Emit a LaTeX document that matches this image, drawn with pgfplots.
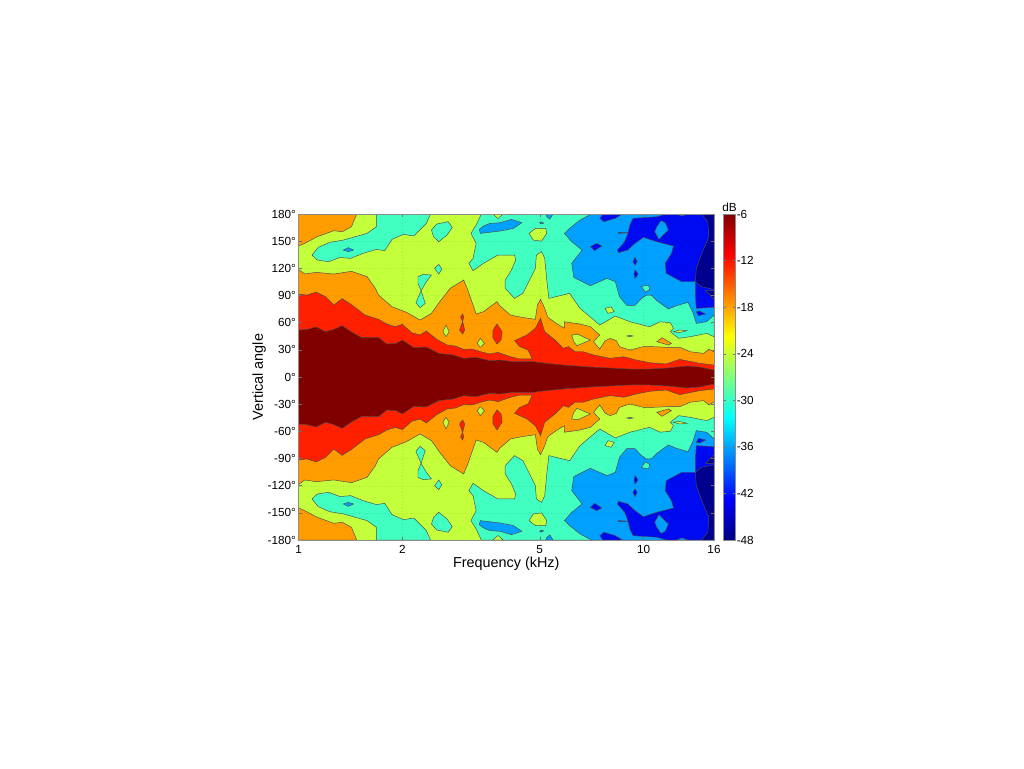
\documentclass[border=0pt]{standalone}
\usepackage{fontspec}
\setmainfont{Liberation Sans}
\usepackage{pgfplots}
\pgfplotsset{compat=1.18}
\definecolor{cnavy}{RGB}{0,0,140}
\definecolor{cblue}{RGB}{0,10,240}
\definecolor{cazure}{RGB}{0,160,255}
\definecolor{cteal}{RGB}{64,255,192}
\definecolor{cyg}{RGB}{196,255,60}
\definecolor{corange}{RGB}{255,156,0}
\definecolor{cred}{RGB}{255,32,0}
\definecolor{cdark}{RGB}{128,0,0}
\colorlet{cline}{black!70}
% closed patch, drawn in the upper half and mirrored in the lower half
\newcommand\poly[2]{%
  \addplot[fill=#1,draw=cline,line width=.35pt,forget plot] coordinates {#2} -- cycle;
  \addplot[fill=#1,draw=cline,line width=.35pt,forget plot,y filter/.expression={-y}] coordinates {#2} -- cycle;
}
% band around 0 deg: upper boundary given, mirrored for the lower one
\newcommand\band[2]{%
  \addplot[fill=#1,draw=none,forget plot] coordinates {(0,0) #2 (4,0)} -- cycle;
  \addplot[fill=#1,draw=none,forget plot,y filter/.expression={-y}] coordinates {(0,0) #2 (4,0)} -- cycle;
  \addplot[draw=cline,line width=.35pt,forget plot] coordinates {#2};
  \addplot[draw=cline,line width=.35pt,forget plot,y filter/.expression={-y}] coordinates {#2};
}
\begin{document}
\begin{tikzpicture}
\useasboundingbox (0,0) rectangle (768pt,576pt);
\begin{axis}[
  at={(223.9pt,171pt)},anchor=south west,
  scale only axis,width=311.6pt,height=244.5pt,
  xmin=0,xmax=4,ymin=-180,ymax=180,
  xtick={0,1,2.3219,3.3219,4},xticklabels={1,2,5,10,16},
  ytick={-180,-150,-120,-90,-60,-30,0,30,60,90,120,150,180},
  yticklabels={-180°,-150°,-120°,-90°,-60°,-30°,0°,30°,60°,90°,120°,150°,180°},
  tick label style={font=\fontsize{8.8pt}{10pt}\selectfont},
  xlabel={Frequency (kHz)},ylabel={Vertical angle},
  label style={font=\fontsize{10.8pt}{12pt}\selectfont},
  xlabel style={yshift=4.5pt},
  ylabel style={yshift=-5.5pt},
  xticklabel style={yshift=-.5pt},
  yticklabel style={xshift=1.5pt},
  tick align=inside,major tick length=2.5pt,
  tick style={draw=black!55,line width=.3pt},
  axis line style={draw=black!45,line width=.3pt},
  grid=major,major grid style={draw=black,opacity=.1,dotted,line width=.2pt},
  axis on top,
  axis background/.style={fill=cyg},
  colormap/jet,point meta min=-48,point meta max=-6,
  colorbar,
  colorbar shift/.style={xshift=-1pt},
  colorbar style={
    width=8.8pt,
    ytick={-48,-42,-36,-30,-24,-18,-12,-6},
    yticklabels={-48,-42,-36,-30,-24,-18,-12,-6},
    yticklabel pos=right,
    tick align=inside,major tick length=2pt,
    yticklabel style={xshift=-2.5pt,font=\fontsize{8.8pt}{10pt}\selectfont},
    title={dB},
    title style={font=\fontsize{8.8pt}{10pt}\selectfont,yshift=-8pt,xshift=0pt},
    axis line style={draw=black!45,line width=.3pt},
  },
]
% orange corner
\poly{corange}{(0,180)(0,144.6)(.06,147.6)(.18,154.9)(.34,161.6)(.42,160.4)(.51,166)(.56,180)}
% teal
\poly{cteal}{(.75,180)(.75,166)(.66,158.6)(.43,151.2)(.30,148.7)(.19,143.2)(.13,134.7)(.18,129.2)(.29,127.3)(.40,132.1)(.50,131)(.62,136.5)(.75,140.9)(.83,139.5)(.90,152)(1.01,157.5)(1.11,155.7)(1.23,169.6)(1.27,180)}
\poly{cteal}{(1.28,162.3)(1.33,168.9)(1.44,171.5)(1.48,165.2)(1.43,156.8)(1.35,149.4)(1.30,154.9)}
\poly{cteal}{(1.31,120)(1.35,124.4)(1.38,118.9)(1.35,113.7)}
\poly{cteal}{(1.15,110.8)(1.20,113.3)(1.28,112.6)(1.23,105.2)(1.18,95.3)(1.15,103.4)}
\poly{cteal}{(1.18,95.3)(1.22,81.3)(1.17,76.5)(1.13,82)}
\poly{cteal}{(1.76,180)(1.71,167.8)(1.66,158.6)(1.71,147.6)(1.68,131)(1.64,125.5)(1.68,117.4)(1.78,125.5)(1.92,134.7)(2.04,134.7)(2.08,134.7)(2.09,129.2)(2.05,118.1)(1.99,107.1)(1.99,97.9)(2.08,86.8)(2.16,92.4)(2.28,120)(2.29,134.7)(2.34,138.4)(2.37,131)(2.39,107.1)(2.41,86.8)(2.61,92.4)(2.71,75.8)(2.90,57.4)(3.05,67.3)(3.19,61)(3.38,55.5)(3.48,61)(3.58,59.9)(3.61,53.8)(3.58,50)(3.66,42.7)(3.77,44.5)(3.93,48.2)(4,44.5)(4,180)}
\poly{cteal}{(3.16,45.3)(3.19,46)(3.22,45.3)(3.19,44.6)}
% yellow-green inside teal
\poly{cyg}{(1.87,180)(1.92,175)(1.97,180)}
\poly{cyg}{(2.22,158.6)(2.28,164.1)(2.38,164.1)(2.39,158.6)(2.34,150.1)(2.26,151.2)}
\poly{cyg}{(3.61,50)(3.67,51.9)(3.74,51.1)(3.66,48.9)}
\poly{cyg}{(2.95,75.8)(3.01,77.6)(3.04,72.1)(2.98,70.3)}
% azure
\poly{cazure}{(.43,140.2)(.48,142.8)(.53,140.2)(.48,138.4)}
\poly{cazure}{(1.75,158.6)(1.94,161.2)(2.07,164.1)(2.15,170.4)(2.05,174.1)(1.94,170.4)(1.84,169.6)(1.78,166.7)(1.74,163)}
\poly{cazure}{(2.38,180)(2.45,180)(2.42,174.4)(2.39,177)}
\poly{cazure}{(2.32,170.4)(2.34,171.4)(2.36,169.8)(2.34,169)}
\poly{cazure}{(2.82,180)(2.71,173.3)(2.61,164.1)(2.56,158.6)(2.63,149.4)(2.73,140.2)(2.63,125.5)(2.65,110)(2.81,100.8)(2.97,108.9)(3.05,105.2)(3.09,88.7)(3.16,79.1)(3.24,79.1)(3.30,86.5)(3.35,90.5)(3.40,90.2)(3.45,84.3)(3.56,75.1)(3.64,78.8)(3.75,82.4)(3.80,70.3)(3.83,59.2)(3.93,61.1)(4,68.4)(4,180)}
% teal inside azure
\poly{cteal}{(3.30,100)(3.37,101.5)(3.38,96.6)(3.34,93.7)}
% blue
\poly{cblue}{(2.90,175.2)(2.93,180)(3.12,180)(3.05,175.2)(2.94,171.5)}
\poly{cblue}{(3.22,175.2)(3.19,167.8)(3.17,158.6)(3.14,149.4)(3.07,140.2)(3.08,137.3)(3.17,140.2)(3.24,147.6)(3.32,154.2)(3.45,149.4)(3.61,144.6)(3.59,136.5)(3.53,125.5)(3.54,114.4)(3.69,105.2)(3.82,105.2)(3.82,90.5)(3.83,75.8)(4,76.9)(4,180)(3.75,180)(3.69,177.7)(3.64,180)(3.54,180)(3.45,177)}
\poly{cblue}{(2.81,143.9)(2.87,147.6)(2.92,144.6)(2.85,139.5)}
\poly{cblue}{(3.08,159.7)(3.18,159.3)(3.08,158.6)}
\poly{cblue}{(3.24,132.1)(3.26,127.3)(3.24,123.6)(3.22,127.3)}
\poly{cblue}{(3.24,118.1)(3.27,113.7)(3.24,108.9)(3.23,113.7)}
\poly{cblue}{(3.83,72.1)(3.86,72.9)(3.92,69.6)(3.85,67.7)}
% azure inside blue
\poly{cazure}{(3.45,166)(3.49,172.6)(3.53,170.4)(3.56,162.3)(3.47,152)(3.43,160.4)}
% navy
\poly{cnavy}{(3.88,180)(3.94,171.5)(3.95,154.9)(3.87,132.8)(3.83,120)(3.82,105.2)(3.88,99.7)(4,96.8)(4,180)}
\poly{cnavy}{(3.92,95.3)(4,95.3)(4,86.1)}
% orange band
\band{corange}{(0,118.9)(.06,113.7)(.17,115.6)(.34,113.7)(.51,116.7)(.66,110.8)(.74,97.9)(.77,90.5)(.90,77.6)(1.04,71.4)(1.17,62.9)(1.28,70.3)(1.36,83.2)(1.46,97.9)(1.59,107.1)(1.63,96)(1.71,69.6)(1.78,72.1)(1.91,83.2)(1.94,78.4)(2.04,68.4)(2.15,65.9)(2.28,63.7)(2.30,79.5)(2.33,85.8)(2.37,75.8)(2.40,65.9)(2.49,58.5)(2.56,53.8)(2.56,61)(2.71,58.5)(2.81,55.5)(2.90,46.4)(2.84,39)(2.90,30.9)(2.95,39.7)(3.0,42.7)(3.06,40.1)(3.09,33.5)(3.19,29.8)(3.32,33.5)(3.41,33.5)(3.54,32.8)(3.67,32.8)(3.77,27.9)(3.90,26.1)(3.95,30.6)(4,27.9)}
\poly{corange}{(3.45,39)(3.50,43.4)(3.59,37.2)(3.56,35.3)}
% yellow-green inside orange
\poly{cyg}{(1.42,57.4)(1.45,50)(1.42,44.5)(1.39,50)}
\poly{cyg}{(1.75,42.7)(1.79,37.2)(1.75,32.8)(1.72,37.2)}
\poly{cyg}{(2.63,46.4)(2.69,47.1)(2.81,40.8)(2.68,34.6)(2.65,39)}
% red band
\band{cred}{(0,91.6)(.08,90.5)(.17,93.8)(.26,88.7)(.34,79.5)(.42,86.5)(.51,79.9)(.64,68.4)(.77,63.7)(.85,58.5)(.93,55.6)(1.0,58.1)(1.09,48.9)(1.17,46.4)(1.23,50.8)(1.33,41.6)(1.43,35.3)(1.51,34.2)(1.59,30.5)(1.67,30.9)(1.75,28)(1.84,25.4)(1.92,27.2)(2.04,22.4)(2.13,19.9)(2.25,19.9)(2.21,29.8)(2.13,33.5)(2.08,40.1)(2.20,46.4)(2.28,53.8)(2.33,64.8)(2.37,50)(2.47,40.8)(2.55,31.7)(2.60,33.5)(2.66,27.9)(2.74,27.9)(2.84,24.3)(3.0,20.6)(3.13,22.4)(3.25,18.8)(3.38,15.8)(3.54,14.4)(3.67,19.5)(3.86,15.1)(4,13.2)}
\poly{cred}{(1.91,58.5)(1.96,50)(1.95,40.8)(1.91,36.4)(1.87,43.8)(1.87,51.2)}
\poly{cred}{(1.58,69.6)(1.59,65.9)(1.58,61.5)(1.56,65.9)}
\poly{cred}{(1.58,61.1)(1.60,51.9)(1.58,47.5)(1.55,51.9)}
% dark red band
\band{cdark}{(0,51.9)(.08,52.6)(.17,55.2)(.26,50)(.34,52.6)(.42,56.7)(.51,49.7)(.61,43.4)(.77,43.8)(.85,36.4)(.94,37.2)(1.0,40.8)(1.11,32.4)(1.23,33.1)(1.35,26.1)(1.49,24.3)(1.59,20.6)(1.71,21.7)(1.84,18)(1.94,18.8)(2.06,16.9)(2.26,16.9)(2.35,15.5)(2.55,13.2)(2.81,11)(3.0,9.9)(3.19,8.8)(3.38,8.8)(3.55,9.9)(3.74,12.1)(3.86,11)(4,7.7)}
\end{axis}
\end{tikzpicture}
\end{document}
